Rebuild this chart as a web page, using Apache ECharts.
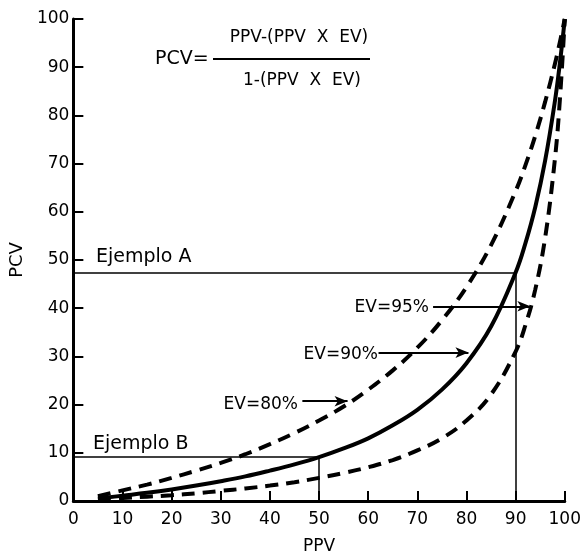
<!DOCTYPE html>
<html>
<head>
<meta charset="utf-8">
<script src="https://cdn.jsdelivr.net/npm/echarts@6/dist/echarts.min.js"></script>
<style>html,body{margin:0;padding:0;background:#fff;}#c{width:584px;height:560px;}</style>
</head>
<body>
<div id="c"></div>
<script>
const ppv  = [5,10,15,20,25,30,35,40,45,50,55,60,65,70,75,80,85,90,92,94,96,98,99,100];
const ev80 = [1.0,2.2,3.4,4.8,6.3,7.9,9.7,11.8,14.1,16.7,19.6,23.1,27.1,31.8,37.5,44.4,53.1,64.3,69.7,75.8,82.8,90.7,95.2,100];
const ev90 = [0.5,1.1,1.7,2.4,3.2,4.1,5.1,6.3,7.6,9.1,10.9,13.0,15.7,18.9,23.1,28.6,36.2,47.4,53.5,61.0,70.6,83.0,90.8,100];
const ev95 = [0.3,0.6,0.9,1.2,1.6,2.1,2.6,3.2,3.9,4.8,5.8,7.0,8.5,10.5,13.0,16.7,22.1,31.0,36.5,43.9,54.6,71.0,83.2,100];
const xTicks = [0,10,20,30,40,50,60,70,80,90,100];
const exampleA = [90, 47.4];
const exampleB = [50, 9.1];
// arrows: [fromPPV, toPPV, PCV]
const arrow95 = [73.2, 93.0, 40.4];
const arrow90 = [62.1, 80.4, 30.8];
const arrow80 = [46.6, 55.8, 20.7];

const FONT = 'DejaVu Sans';
const pair = (a) => a.map((v, i) => [ppv[i], v]);
const chart = echarts.init(document.getElementById('c'));
const dash = [13, 8];
const arrowLine = (a) => [{coord: [a[0], a[2]]}, {coord: [a[1], a[2]]}];
const txt = (x, y, text, size, align) => ({type: 'text', x: x, y: y,
  style: {text: text, font: size + 'px "DejaVu Sans"', fill: '#000', textAlign: align || 'left', textVerticalAlign: 'middle'}});

chart.setOption({
  animation: false,
  backgroundColor: '#fff',
  grid: {left: 72, right: 16, top: 19, bottom: 53},
  xAxis: {
    type: 'value', min: 0, max: 100, interval: 10,
    name: 'PPV', nameLocation: 'middle', nameGap: 37,
    nameTextStyle: {fontFamily: FONT, fontSize: 17, color: '#000'},
    axisLine: {lineStyle: {color: '#000', width: 3}},
    axisTick: {inside: true, length: 10, lineStyle: {color: '#000', width: 2}},
    axisLabel: {fontFamily: FONT, fontSize: 17, color: '#000', margin: 10,
      formatter: v => xTicks.includes(v) ? String(v) : ''},
    splitLine: {show: false}
  },
  yAxis: {
    type: 'value', min: 0, max: 100, interval: 10,
    name: 'PCV', nameLocation: 'middle', nameGap: 36, nameRotate: 90,
    nameTextStyle: {fontFamily: FONT, fontSize: 18, color: '#000'},
    axisLine: {lineStyle: {color: '#000', width: 3}},
    axisTick: {inside: true, length: 10, lineStyle: {color: '#000', width: 2}},
    axisLabel: {fontFamily: FONT, fontSize: 17, color: '#000', margin: 4},
    splitLine: {show: false}
  },
  series: [
    {type: 'line', name: 'EV=80%', data: pair(ev80), smooth: 0.4, showSymbol: false,
     lineStyle: {color: '#000', width: 4, type: dash}},
    {type: 'line', name: 'EV=90%', data: pair(ev90), smooth: 0.4, showSymbol: false,
     lineStyle: {color: '#000', width: 4}},
    {type: 'line', name: 'EV=95%', data: pair(ev95), smooth: 0.4, showSymbol: false,
     lineStyle: {color: '#000', width: 4, type: dash}},
    {type: 'line', data: [], silent: true,
     markLine: {
       silent: true, symbol: ['none', 'none'], label: {show: false},
       lineStyle: {color: '#000', width: 1.5, type: 'solid'},
       data: [
         [{coord: [0, exampleA[1]]}, {coord: [exampleA[0], exampleA[1]]}],
         [{coord: [exampleA[0], exampleA[1]]}, {coord: [exampleA[0], 0]}],
         [{coord: [0, exampleB[1]]}, {coord: [exampleB[0], exampleB[1]]}],
         [{coord: [exampleB[0], exampleB[1]]}, {coord: [exampleB[0], 0]}]
       ]
     }},
    {type: 'line', data: [], silent: true,
     markLine: {
       silent: true, symbol: ['none', 'arrow'], symbolSize: [8, 13], label: {show: false},
       lineStyle: {color: '#000', width: 2, type: 'solid'},
       data: [arrowLine(arrow95), arrowLine(arrow90), arrowLine(arrow80)]
     }}
  ],
  graphic: [
    txt(155, 59, 'PCV=', 19),
    {type: 'line', shape: {x1: 213, y1: 59, x2: 370, y2: 59}, style: {stroke: '#000', lineWidth: 2}},
    txt(299, 38, 'PPV-(PPV  X  EV)', 17, 'center'),
    txt(302, 81, '1-(PPV  X  EV)', 17, 'center'),
    txt(96, 257, 'Ejemplo A', 19),
    txt(93, 444, 'Ejemplo B', 19),
    txt(429, 308, 'EV=95%', 17, 'right'),
    txt(378, 355, 'EV=90%', 17, 'right'),
    txt(298, 405, 'EV=80%', 17, 'right')
  ]
});
</script>
</body>
</html>
